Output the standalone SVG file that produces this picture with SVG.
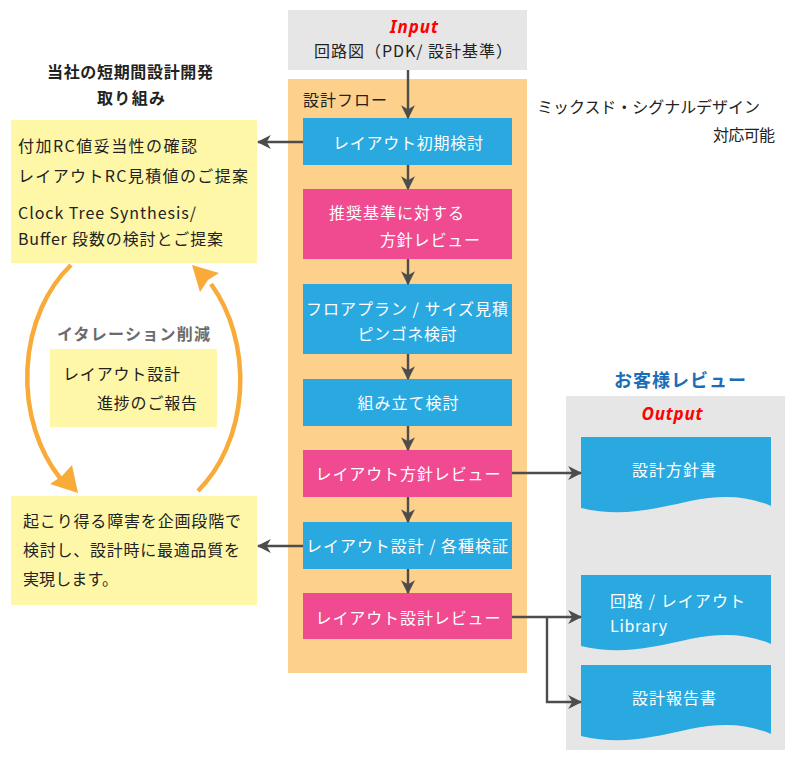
<svg xmlns="http://www.w3.org/2000/svg" width="800" height="760" viewBox="0 0 800 760">
<defs>
<style>
text{font-family:"Noto Sans CJK JP","Noto Sans",sans-serif;font-size:16px;fill:#222;dominant-baseline:central}
.w{fill:#fff;text-anchor:middle}
.wl{fill:#fff}
.b{font-weight:bold}
.red{fill:#ff0000;font-weight:bold;font-style:italic;font-size:17px;font-family:"Noto Sans","DejaVu Sans",sans-serif;text-anchor:middle}
.blue{fill:#29a9e0}
.pink{fill:#f04a91}
.yel{fill:#fff7a8}
.conn{stroke:#4d4d4d;stroke-width:2.4;fill:none}
.arc{stroke:#f9ab3a;stroke-width:4.5;fill:none}
</style>
<marker id="ah" markerUnits="userSpaceOnUse" markerWidth="14" markerHeight="14" viewBox="0 0 12 12" refX="11" refY="6" orient="auto">
<path d="M0,0 L12,6 L0,12 L3.5,6 Z" fill="#4d4d4d"/>
</marker>
</defs>
<rect width="800" height="760" fill="#fff"/>

<g id="title">
<text x="130" y="71" class="b" text-anchor="middle" textLength="166" lengthAdjust="spacing">当社の短期間設計開発</text>
<text x="131" y="97" class="b" text-anchor="middle" textLength="68" lengthAdjust="spacing">取り組み</text>
</g>

<g id="input">
<rect x="288" y="10" width="239" height="60" fill="#e6e6e6"/>
<text x="414" y="26" class="red" textLength="48" lengthAdjust="spacing">Input</text>
<text x="413" y="50" text-anchor="middle" fill="#333" textLength="198" lengthAdjust="spacing">回路図（PDK/ 設計基準）</text>
</g>

<g id="flow">
<rect x="288" y="79" width="239" height="594" fill="#fdd08b"/>
<text x="303" y="99" textLength="84" lengthAdjust="spacing">設計フロー</text>
</g>

<g id="mixed">
<text x="537" y="106" textLength="223" lengthAdjust="spacing">ミックスド・シグナルデザイン</text>
<text x="713" y="134" textLength="62" lengthAdjust="spacing">対応可能</text>
</g>

<g id="n1">
<rect x="303" y="118" width="209" height="47" class="blue"/>
<text x="408" y="142" class="w" textLength="150" lengthAdjust="spacing">レイアウト初期検討</text>
</g>
<g id="n2">
<rect x="303" y="189" width="209" height="70" class="pink"/>
<text x="329" y="212" class="wl" textLength="135" lengthAdjust="spacing">推奨基準に対する</text>
<text x="380" y="239" class="wl" textLength="100" lengthAdjust="spacing">方針レビュー</text>
</g>
<g id="n3">
<rect x="303" y="284" width="209" height="70" class="blue"/>
<text x="407" y="308" class="w" textLength="202" lengthAdjust="spacing">フロアプラン / サイズ見積</text>
<text x="407" y="333" class="w" textLength="99" lengthAdjust="spacing">ピンゴネ検討</text>
</g>
<g id="n4">
<rect x="303" y="379" width="209" height="47" class="blue"/>
<text x="408" y="402" class="w" textLength="101" lengthAdjust="spacing">組み立て検討</text>
</g>
<g id="n5">
<rect x="303" y="450" width="209" height="47" class="pink"/>
<text x="408" y="473" class="w" textLength="185" lengthAdjust="spacing">レイアウト方針レビュー</text>
</g>
<g id="n6">
<rect x="303" y="522" width="209" height="47" class="blue"/>
<text x="407" y="545" class="w" textLength="202" lengthAdjust="spacing">レイアウト設計 / 各種検証</text>
</g>
<g id="n7">
<rect x="303" y="593" width="209" height="46" class="pink"/>
<text x="408" y="617" class="w" textLength="185" lengthAdjust="spacing">レイアウト設計レビュー</text>
</g>

<g id="note1">
<rect x="11" y="120" width="246" height="143" class="yel"/>
<text x="18" y="145" textLength="179" lengthAdjust="spacing">付加RC値妥当性の確認</text>
<text x="18" y="175" textLength="230" lengthAdjust="spacing">レイアウトRC見積値のご提案</text>
<text x="18" y="212" textLength="178" lengthAdjust="spacing">Clock Tree Synthesis/</text>
<text x="18" y="238" textLength="205" lengthAdjust="spacing">Buffer 段数の検討とご提案</text>
</g>

<g id="iteration">
<text x="57" y="333" class="b" style="fill:#6b6b6b" textLength="153" lengthAdjust="spacing">イタレーション削減</text>
<rect x="50" y="349" width="167" height="78" class="yel"/>
<text x="63" y="373" textLength="117" lengthAdjust="spacing">レイアウト設計</text>
<text x="97" y="402" textLength="100" lengthAdjust="spacing">進捗のご報告</text>
</g>

<g id="cycle">
<path class="arc" d="M71,265 A108,140 0 0 0 60,478"/>
<polygon points="78,493 50,484 62,476 72,465" fill="#f9ab3a"/>
<path class="arc" d="M198,491 A108,140 0 0 0 211,284"/>
<polygon points="192,265 219,273 208,280 200,292" fill="#f9ab3a"/>
</g>

<g id="note2">
<rect x="11" y="496" width="246" height="109" class="yel"/>
<text x="23" y="520" textLength="218" lengthAdjust="spacing">起こり得る障害を企画段階で</text>
<text x="23" y="549" textLength="217" lengthAdjust="spacing">検討し、設計時に最適品質を</text>
<text x="23" y="578" textLength="95" lengthAdjust="spacing">実現します。</text>
</g>

<g id="customer">
<text x="680" y="379" class="b" text-anchor="middle" style="fill:#1c6db8;font-size:18px" textLength="132" lengthAdjust="spacing">お客様レビュー</text>
<rect x="566" y="396" width="219" height="354" fill="#e6e6e6"/>
<text x="672" y="413" class="red" textLength="61" lengthAdjust="spacing">Output</text>
</g>

<g id="doc1">
<path class="blue" d="M581,437 H771 V506 C745,495 720,495 690,501 C650,510 620,517 581,508 Z"/>
<text x="674" y="469" class="w" textLength="84" lengthAdjust="spacing">設計方針書</text>
</g>
<g id="doc2">
<path class="blue" d="M581,575 H771 V644 C745,633 720,633 690,639 C650,648 620,655 581,646 Z"/>
<text x="610" y="600" class="wl" textLength="135" lengthAdjust="spacing">回路 / レイアウト</text>
<text x="610" y="625" class="wl" textLength="57" lengthAdjust="spacing">Library</text>
</g>
<g id="doc3">
<path class="blue" d="M581,665 H771 V734 C745,723 720,723 690,729 C650,738 620,745 581,736 Z"/>
<text x="674" y="697" class="w" textLength="84" lengthAdjust="spacing">設計報告書</text>
</g>

<g id="connectors">
<line class="conn" x1="408" y1="70" x2="408" y2="118" marker-end="url(#ah)"/>
<line class="conn" x1="408" y1="165" x2="408" y2="189" marker-end="url(#ah)"/>
<line class="conn" x1="408" y1="259" x2="408" y2="284" marker-end="url(#ah)"/>
<line class="conn" x1="408" y1="354" x2="408" y2="379" marker-end="url(#ah)"/>
<line class="conn" x1="408" y1="426" x2="408" y2="450" marker-end="url(#ah)"/>
<line class="conn" x1="408" y1="497" x2="408" y2="522" marker-end="url(#ah)"/>
<line class="conn" x1="408" y1="569" x2="408" y2="593" marker-end="url(#ah)"/>
<line class="conn" x1="303" y1="142" x2="258" y2="142" marker-end="url(#ah)"/>
<line class="conn" x1="303" y1="546" x2="258" y2="546" marker-end="url(#ah)"/>
<line class="conn" x1="512" y1="473" x2="581" y2="473" marker-end="url(#ah)"/>
<line class="conn" x1="512" y1="617" x2="581" y2="617" marker-end="url(#ah)"/>
<polyline class="conn" points="547,617 547,702 581,702" marker-end="url(#ah)"/>
</g>
</svg>
